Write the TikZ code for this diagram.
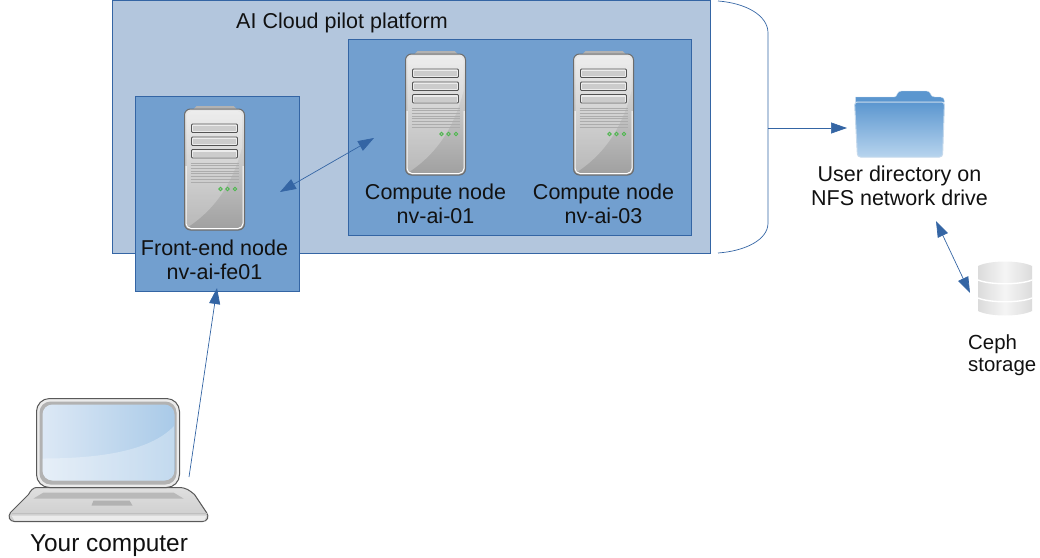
\documentclass[tikz,border=0pt]{standalone}
\usepackage{fontspec}
\setmainfont{Liberation Sans}
\usetikzlibrary{arrows.meta}
\definecolor{platformfill}{HTML}{B3C6DD}
\definecolor{nodefill}{HTML}{729FCF}
\definecolor{linkblue}{HTML}{3465A4}
\definecolor{labelink}{HTML}{111111}

\tikzset{
  server/.pic={
    % cap and body
    \fill[gray!60] (6,6) -- (12,0) -- (49,0) -- (55,6) -- cycle;
    \shade[top color=gray!18, bottom color=gray!75, draw=gray!85!black, line width=1pt,
           rounded corners=6pt] (0,3) rectangle (60,124);
    \begin{scope}
      \clip[rounded corners=5pt] (2,5) rectangle (58,122);
      \fill[white, opacity=.25] (2,122) .. controls (36,100) and (50,70) .. (58,40) -- (58,5) -- (2,5) -- cycle;
    \end{scope}
    \draw[white, line width=1pt, rounded corners=5pt] (1.5,60) -- (1.5,122.5) -- (58.5,122.5) -- (58.5,60);
    % drive bays
    \foreach \bay in {18,31,43.5} {
      \draw[gray!65!black, fill=white!85!gray, rounded corners=1pt, line width=.9pt] (7,\bay) rectangle (53,\bay+8.5);
      \fill[gray!40] (8.5,\bay+2) rectangle (51.5,\bay+7);
    }
    % grille
    \foreach \slit in {57,59.7,...,76} {
      \draw[gray!65, line width=.7pt] (6,\slit) -- (54,\slit);
    }
    % lights
    \foreach \lamp in {36,43,50.5} {
      \draw[green!60!black!70, fill=gray!55, line width=.8pt] (\lamp,83) circle (1.8);
    }
  },
  laptop/.pic={
    % base
    \shade[top color=gray!25, bottom color=gray!40, draw=gray!70!black, line width=1pt]
      (28,89) -- (170,89) .. controls (178,89) and (181,92) .. (186,96) -- (198,114)
      .. controls (201,118) and (199,123) .. (194,123) -- (6,123)
      .. controls (1,123) and (-1,118) .. (2,114) -- (20,96) .. controls (22,92) and (25,89) .. (28,89) -- cycle;
    \fill[gray!55] (35,94) -- (165,94) -- (175,100) -- (25,100) -- cycle;
    \fill[gray!60] (85,102) -- (121,102) -- (124,107) -- (83,107) -- cycle;
    \draw[gray!50, line width=.8pt] (3,115) -- (198,115);
    \fill[white, opacity=.6] (3,117) -- (198,117) -- (196,122) -- (6,122) -- cycle;
    % lid
    \draw[gray!70!black, fill=white!92!black, rounded corners=13pt, line width=1pt] (28,0) rectangle (171,89);
    \fill[gray!60, rounded corners=11pt] (31,3) rectangle (168,86);
    \shade[left color=laptopscreenL, right color=laptopscreenR, rounded corners=10pt]
      (34,6) rectangle (166,82);
    \begin{scope}
      \clip[rounded corners=10pt] (34,6) rectangle (166,82);
      \fill[white, opacity=.3] (34,60) .. controls (100,60) and (145,50) .. (166,27)
        -- (166,82) -- (34,82) -- cycle;
    \end{scope}
  },
  folder/.pic={
    % back panel with tab
    \fill[folderback, draw=folderedge] (1,6) -- (40,6) .. controls (43,6) and (42,0) .. (47,0)
      -- (72,0) .. controls (77,0) and (75,6) .. (80,6) -- (86,6) .. controls (89,6) and (90,8) .. (90,11)
      -- (1,11) -- cycle;
    % front panel
    \shade[top color=foldertop, bottom color=folderbottom, draw=folderedge,
           rounded corners=3pt, line width=1pt] (0,11) -- (90,11) -- (88,66) -- (3,66) -- cycle;
  },
  cephstack/.pic={
    % one body, two seams
    \shade[left color=gray!28, right color=gray!28, middle color=gray!8]
      (0,5) .. controls (12,-1) and (42,-1) .. (54,5) -- (54,50)
      .. controls (42,56) and (12,56) .. (0,50) -- cycle;
    \foreach \seam in {19,37} {
      \draw[white, line width=1.4pt] (0,\seam) .. controls (12,\seam+5) and (42,\seam+5) .. (54,\seam);
    }
  }
}
\definecolor{laptopscreenL}{HTML}{DCE8F5}
\definecolor{laptopscreenR}{HTML}{A9CAE8}
\definecolor{folderback}{HTML}{5B96CF}
\definecolor{folderedge}{HTML}{C5D9EC}
\definecolor{foldertop}{HTML}{5B96CF}
\definecolor{folderbottom}{HTML}{B7D4EE}

\begin{document}
\begin{tikzpicture}[
  x=1pt, y=-1pt,
  font=\fontsize{21.5}{24}\selectfont,
  every node/.style={text=labelink, inner sep=0pt, align=center},
  platform/.style={draw=linkblue, fill=platformfill, line width=1pt},
  hostbox/.style={draw=linkblue, fill=nodefill, line width=1pt},
  link/.style={{Triangle[length=16pt,width=11pt]}-{Triangle[length=16pt,width=11pt]}, linkblue, line width=.7pt},
  oneway/.style={-{Triangle[length=16pt,width=11pt]}, linkblue, line width=.7pt}
]
\useasboundingbox (0,0) rectangle (1040,557);

% Platform box and bracket
\node[platform, minimum width=598pt, minimum height=253pt, anchor=north west] (platform) at (112,-0.3) {};
\node[anchor=base] (platformlabel) at (342,28) {AI Cloud pilot platform};
\draw[linkblue, line width=.7pt] (718,1) .. controls (745,3) and (768,15) .. (768,33)
  -- (768,223) .. controls (768,240) and (745,251) .. (718,253);

% Compute nodes
\node[hostbox, minimum width=343pt, minimum height=196pt, anchor=north west] (compute) at (348,38.5) {};
\pic at (405.5,51) {server};
\pic at (573.5,51) {server};
\node (computeA) at (435.5,204) {Compute node\\nv-ai-01};
\node (computeB) at (603.5,204) {Compute node\\nv-ai-03};

% Front-end node
\node[hostbox, minimum width=164pt, minimum height=195pt, anchor=north west] (frontend) at (135,95.5) {};
\pic at (184.5,106) {server};
\node (frontendlabel) at (214.5,260) {Front-end node\\nv-ai-fe01};

% Your computer
\pic at (8.5,398.5) {laptop};
\node[font=\fontsize{24.4}{27}\selectfont] (laptoplabel) at (109,546) {Your computer};

% NFS directory
\pic at (854.5,91) {folder};
\node (nfslabel) at (899.5,185.5) {User directory on\\NFS network drive};

% Ceph
\pic at (978,261) {cephstack};
\node[align=left, anchor=north west, font=\fontsize{20.4}{22.5}\selectfont] (cephlabel) at (968,334.5) {Ceph\\storage};

% Link ends
\coordinate (feport) at (280,192);
\coordinate (computeport) at (374,138);
\coordinate (laptopport) at (189,477);
\coordinate (feinlet) at (217,288);
\coordinate (bracket) at (768,128);
\coordinate (nfsport) at (847,128);
\coordinate (nfsbelow) at (936,221);
\coordinate (cephport) at (970,293);

\draw[link] (feport) -- (computeport);
\draw[oneway] (laptopport) -- (feinlet);
\draw[oneway] (bracket) -- (nfsport);
\draw[link] (nfsbelow) -- (cephport);

\end{tikzpicture}
\end{document}
